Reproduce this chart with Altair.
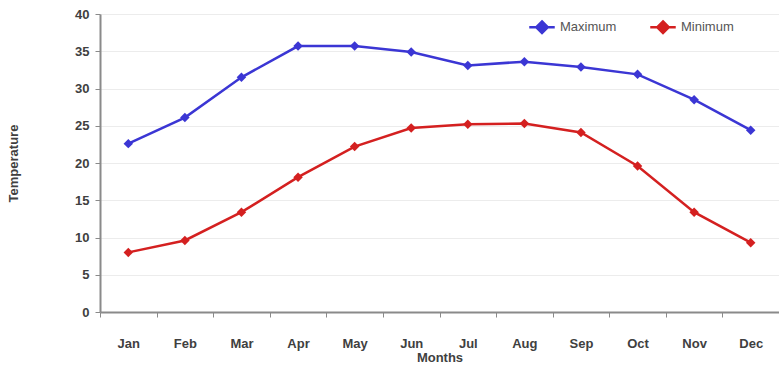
import altair as alt
import pandas as pd

months = ["Jan", "Feb", "Mar", "Apr", "May", "Jun", "Jul", "Aug", "Sep", "Oct", "Nov", "Dec"]
maximum = [22.6, 26.1, 31.5, 35.7, 35.7, 34.9, 33.1, 33.6, 32.9, 31.9, 28.5, 24.4]
minimum = [8.0, 9.6, 13.4, 18.1, 22.2, 24.7, 25.2, 25.3, 24.1, 19.6, 13.4, 9.3]
series = ["Maximum", "Minimum"]
colors = ["#3b36d4", "#d42020"]

rows = []
for name, values in zip(series, [maximum, minimum]):
    for m, v in zip(months, values):
        rows.append({"Month": m, "Temperature": v, "Series": name})
df = pd.DataFrame(rows)

FONT = "Liberation Sans"

x = alt.X(
    "Month:N",
    sort=months,
    bandPosition=0.5,
    scale=alt.Scale(type="band", paddingInner=0, paddingOuter=0),
    axis=alt.Axis(
        title="Months",
        labelAngle=0,
        grid=False,
        tickBand="extent",
        tickSize=5,
        labelPadding=20,
        titlePadding=1,
        domainColor="#8a8a8a",
        domainWidth=2,
        tickColor="#8a8a8a",
    ),
)
y = alt.Y(
    "Temperature:Q",
    scale=alt.Scale(domain=[0, 40], nice=False),
    axis=alt.Axis(
        title="Temperature",
        values=list(range(0, 41, 5)),
        tickSize=5,
        labelPadding=6,
        titlePadding=54,
        domainColor="#8a8a8a",
        domainWidth=2,
        tickColor="#8a8a8a",
        gridColor="#ececec",
    ),
)
color = alt.Color(
    "Series:N",
    scale=alt.Scale(domain=series, range=colors),
    legend=alt.Legend(
        title=None,
        orient="none",
        legendX=428,
        legendY=-1,
        direction="horizontal",
        symbolType="M-1,0H1M0,-0.45L0.45,0L0,0.45L-0.45,0Z",
        symbolSize=650,
        symbolStrokeWidth=2.5,
        labelFontSize=13,
        labelColor="#555555",
        labelFont=FONT,
        columnPadding=28,
        symbolOffset=0,
    ),
)

lines = alt.Chart(df).mark_line(strokeWidth=2.5).encode(x=x, y=y, color=color)
points = alt.Chart(df).mark_point(shape="diamond", filled=True, size=90, opacity=1).encode(
    x=x, y=y, color=color
)

chart = (
    alt.layer(lines, points)
    .properties(
        width=679,
        height=298,
        autosize=alt.AutoSizeParams(type="none"),
        padding={"left": 100, "top": 14, "right": 0, "bottom": 56},
    )
    .configure_view(stroke=None)
    .configure_axis(
        labelFont=FONT,
        titleFont=FONT,
        labelFontSize=13,
        titleFontSize=13,
        labelFontWeight="bold",
        titleFontWeight="bold",
        labelColor="#404040",
        titleColor="#404040",
    )
)

chart.save("out.html", embed_options={"renderer": "svg", "actions": False})
